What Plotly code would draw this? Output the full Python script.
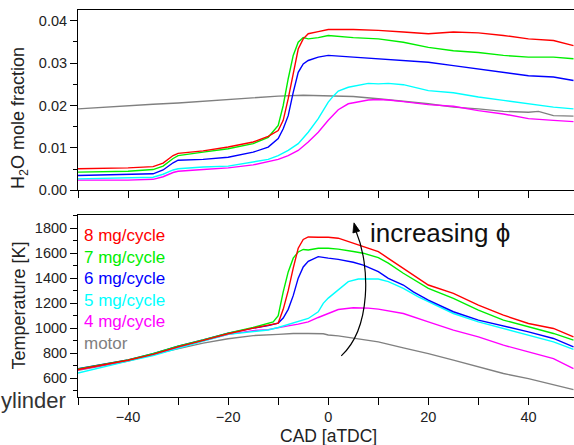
import plotly.graph_objects as go

# ---------------- data: H2O mole fraction (top panel) ----------------
cad_h2o_a = [-50, -40, -35, -33, -31, -30, -25, -20, -15, -12, -10, -9, -8, -7, -6, -5, -4, -2, 0,
             5, 10, 15, 20, 25, 30, 35, 40, 45, 49]
h2o_8 = [0.0051, 0.0053, 0.0056, 0.0064, 0.0082, 0.0087, 0.0093, 0.0102, 0.0114, 0.0127, 0.0141,
         0.0165, 0.0216, 0.0278, 0.0333, 0.0357, 0.0369, 0.0374, 0.0379,
         0.0379, 0.0377, 0.0373, 0.0369, 0.0373, 0.0371, 0.0365, 0.0357, 0.0353, 0.0341]
h2o_7 = [0.0043, 0.0045, 0.0049, 0.0057, 0.0075, 0.0082, 0.0090, 0.0098, 0.0110, 0.0125, 0.0153,
         0.0200, 0.0263, 0.0318, 0.0349, 0.0360, 0.0357, 0.0360, 0.0365,
         0.0360, 0.0357, 0.0349, 0.0337, 0.0329, 0.0325, 0.0318, 0.0314, 0.0314, 0.0310]
h2o_6 = [0.0035, 0.0037, 0.0039, 0.0048, 0.0065, 0.0071, 0.0073, 0.0078, 0.0090, 0.0102, 0.0122,
         0.0145, 0.0176, 0.0231, 0.0278, 0.0298, 0.0306, 0.0314, 0.0318,
         0.0314, 0.0310, 0.0306, 0.0302, 0.0294, 0.0286, 0.0278, 0.0270, 0.0267, 0.0259]

cad_h2o_b = [-50, -40, -35, -33, -31, -30, -25, -20, -15, -12, -10, -8, -6, -4, -2, 0, 1, 2, 4, 6, 8,
             10, 12, 15, 20, 25, 30, 35, 40, 45, 49]
h2o_5 = [0.0027, 0.0029, 0.0031, 0.0038, 0.0048, 0.0051, 0.0055, 0.0057, 0.0067, 0.0073, 0.0082,
         0.0094, 0.0110, 0.0137, 0.0169, 0.0208, 0.0222, 0.0234, 0.0243, 0.0248, 0.0252,
         0.0251, 0.0252, 0.0249, 0.0235, 0.0230, 0.0220, 0.0212, 0.0204, 0.0196, 0.0192]
h2o_4 = [0.0024, 0.0024, 0.0026, 0.0032, 0.0042, 0.0045, 0.0049, 0.0053, 0.0060, 0.0067, 0.0073,
         0.0082, 0.0094, 0.0114, 0.0137, 0.0165, 0.0178, 0.0190, 0.0204, 0.0209, 0.0213,
         0.0214, 0.0213, 0.0209, 0.0202, 0.0198, 0.0188, 0.0180, 0.0169, 0.0165, 0.0162]

cad_h2o_m = [-50, -45, -40, -35, -30, -25, -20, -15, -10, -5, 0, 5, 10, 15, 20, 25, 30, 35, 40, 42, 45, 49]
h2o_motor = [0.0192, 0.0196, 0.0200, 0.0203, 0.0206, 0.0210, 0.0214, 0.0218, 0.0222, 0.0224, 0.0222,
             0.0221, 0.0216, 0.0210, 0.0204, 0.0196, 0.0192, 0.0186, 0.0184, 0.0186, 0.0176, 0.0175]

# ---------------- data: temperature (bottom panel) ----------------
cad_t_8 = [-50, -45, -40, -35, -30, -25, -20, -15, -12, -10, -9, -8, -7, -6, -5, -4, -2, 0, 2, 5, 7,
           10, 12, 15, 17, 20, 25, 30, 35, 40, 45, 49]
t_8 = [668, 705, 742, 790, 850, 902, 955, 1000, 1025, 1040, 1150, 1300, 1480, 1640, 1710, 1730, 1728,
       1728, 1720, 1680, 1653, 1613, 1559, 1479, 1420, 1345, 1278, 1184, 1104, 1037, 997, 930]
cad_t_7 = [-50, -45, -40, -35, -30, -25, -20, -15, -12, -11, -10, -9, -8, -7, -6, -5, -4, -2, 0, 2, 5,
           7, 10, 12, 15, 17, 20, 25, 30, 35, 40, 45, 49]
t_7 = [672, 708, 745, 795, 855, 905, 960, 1005, 1035, 1050, 1100, 1290, 1450, 1560, 1610, 1630, 1626,
       1640, 1640, 1633, 1613, 1600, 1564, 1520, 1439, 1390, 1318, 1238, 1144, 1064, 1010, 957, 903]
cad_t_6 = [-50, -45, -40, -35, -30, -25, -20, -15, -12, -10, -9, -8, -7, -6, -5, -4, -2, 0, 2, 5, 7,
           10, 12, 15, 17, 20, 25, 30, 35, 40, 45, 49]
t_6 = [675, 708, 745, 795, 855, 905, 960, 1000, 1020, 1040, 1080, 1150, 1260, 1400, 1490, 1535, 1572,
       1560, 1550, 1527, 1505, 1452, 1398, 1345, 1290, 1224, 1131, 1064, 1018, 970, 917, 850]
cad_t_5 = [-50, -45, -40, -35, -30, -25, -20, -15, -12, -10, -8, -6, -4, -2, -1, 0, 2, 4, 6, 8, 10,
           12, 15, 18, 20, 25, 30, 35, 40, 45, 49]
t_5 = [640, 690, 735, 780, 840, 895, 950, 975, 985, 1005, 1030, 1050, 1077, 1130, 1198, 1240, 1304,
       1372, 1393, 1395, 1393, 1372, 1318, 1250, 1211, 1117, 1050, 997, 943, 890, 830]
cad_t_4 = [-50, -45, -40, -35, -30, -25, -20, -15, -12, -10, -8, -6, -4, -2, 0, 2, 5, 8, 10, 15, 20,
           25, 30, 35, 40, 45, 49]
t_4 = [665, 700, 740, 788, 845, 898, 950, 980, 988, 1000, 1018, 1032, 1050, 1085, 1117, 1149, 1163,
       1160, 1152, 1117, 1050, 984, 930, 863, 810, 756, 676]
cad_t_m = [-50, -45, -40, -35, -30, -25, -20, -15, -10, -7, -4, -1, 0, 2, 5, 8, 10, 15, 20, 25, 30,
           35, 40, 45, 49]
t_motor = [662, 700, 735, 790, 836, 880, 915, 940, 950, 957, 957, 955, 945, 938, 920, 905, 890, 842,
           796, 743, 689, 636, 595, 547, 507]

series_names = ["8 mg/cycle", "7 mg/cycle", "6 mg/cycle", "5 mg/cycle", "4 mg/cycle", "motor"]
series_colors = ["#ff0000", "#00ee00", "#0000ff", "#00ffff", "#ff00ff", "#808080"]

x_ticks_all = [-50, -40, -30, -20, -10, 0, 10, 20, 30, 40]
t_ticks = [600, 800, 1000, 1200, 1400, 1600, 1800]

FONT = "Liberation Sans, Arial, sans-serif"
XR = [-50, 49.1]
TR = [448, 1905]
HR = [0, 0.0425]

top_sets = [(cad_h2o_a, h2o_8), (cad_h2o_a, h2o_7), (cad_h2o_a, h2o_6),
            (cad_h2o_b, h2o_5), (cad_h2o_b, h2o_4), (cad_h2o_m, h2o_motor)]
bot_sets = [(cad_t_8, t_8), (cad_t_7, t_7), (cad_t_6, t_6),
            (cad_t_5, t_5), (cad_t_4, t_4), (cad_t_m, t_motor)]

fig = go.Figure()
order = [5, 4, 3, 2, 1, 0]
for i in order:
    cx, cy = top_sets[i]
    fig.add_trace(go.Scatter(x=cx, y=cy, mode="lines", name=series_names[i],
                             line=dict(color=series_colors[i], width=1.4),
                             xaxis="x", yaxis="y", showlegend=False))
for i in order:
    cx, cy = bot_sets[i]
    fig.add_trace(go.Scatter(x=cx, y=cy, mode="lines", name=series_names[i],
                             line=dict(color=series_colors[i], width=1.4),
                             xaxis="x2", yaxis="y2", showlegend=False))

axis_common = dict(showgrid=False, zeroline=False, linecolor="black", linewidth=1,
                   tickcolor="black", tickfont=dict(family=FONT, size=14.5, color="#222"))

annotations = []
leg_y = [0.4186, 0.3610, 0.3067, 0.2506, 0.1946, 0.1388]
for name, col, yy in zip(series_names, series_colors, leg_y):
    annotations.append(dict(text=name, x=0.008, y=yy, xref="paper", yref="paper",
                            xanchor="left", yanchor="middle", showarrow=False,
                            font=dict(family=FONT, size=17, color=col)))
annotations += [
    dict(text="H<sub>2</sub>O mole fraction", textangle=-90, x=-0.118, y=0.722,
         xref="paper", yref="paper", xanchor="center", yanchor="middle", showarrow=False,
         font=dict(family=FONT, size=18, color="#222")),
    dict(text="Temperature [K]", textangle=-90, x=-0.118, y=0.2377,
         xref="paper", yref="paper", xanchor="center", yanchor="middle", showarrow=False,
         font=dict(family=FONT, size=18, color="#222")),
    dict(text="CAD [aTDC]", x=0.505, y=-0.102, xref="paper", yref="paper",
         xanchor="center", yanchor="middle", showarrow=False,
         font=dict(family=FONT, size=17.5, color="#222")),
    dict(text="increasing \u03d5", x=0.584, y=0.424, xref="paper", yref="paper",
         xanchor="left", yanchor="middle", showarrow=False,
         font=dict(family=FONT, size=26, color="#111")),
    dict(text="ylinder", x=-0.159, y=-0.010, xref="paper", yref="paper",
         xanchor="left", yanchor="middle", showarrow=False,
         font=dict(family=FONT, size=22, color="#333")),
]

shapes = [
    dict(type="path", xref="x2", yref="y2",
         path="M 2.6,777 C 8.6,1000 8.4,1500 5.6,1769",
         line=dict(color="black", width=1.2)),
    dict(type="path", xref="x2", yref="y2",
         path="M 5.14,1843 L 6.28,1777 L 4.92,1762 Z",
         fillcolor="black", line=dict(color="black", width=0.8)),
]

fig.update_layout(
    width=574, height=445,
    margin=dict(l=78, r=0, t=10, b=48),
    paper_bgcolor="white", plot_bgcolor="white",
    showlegend=False,
    font=dict(family=FONT, size=14, color="#222"),
    xaxis=dict(domain=[0, 1], anchor="y", range=XR, tickvals=x_ticks_all,
               ticks="outside", ticklen=7, showticklabels=False, showline=True,
               mirror=True, **axis_common),
    yaxis=dict(domain=[0.534, 1], anchor="x", range=HR, dtick=0.01, tick0=0,
               tickformat=".2f", ticks="outside", ticklen=7, showline=True, mirror=True,
               minor=dict(dtick=0.005, ticks="outside", ticklen=4, tickcolor="black"),
               **axis_common),
    xaxis3=dict(overlaying="x", anchor="y", side="top", range=XR, tickvals=x_ticks_all,
                ticks="inside", ticklen=6, showticklabels=False, showline=False,
                **axis_common),
    yaxis3=dict(overlaying="y", anchor="x", side="right", range=HR, dtick=0.01,
                ticks="inside", ticklen=5, showticklabels=False, showline=False,
                **axis_common),
    xaxis2=dict(domain=[0, 1], anchor="y2", range=XR, dtick=20, tick0=0,
                ticks="outside", ticklen=7, showline=True, mirror=True,
                minor=dict(dtick=10, tick0=0, ticks="outside", ticklen=7, tickcolor="black"),
                **axis_common),
    yaxis2=dict(domain=[0, 0.470], anchor="x2", range=TR, tickvals=t_ticks,
                ticks="outside", ticklen=7, showline=True, mirror=True,
                minor=dict(dtick=100, tick0=0, ticks="outside", ticklen=4, tickcolor="black"),
                **axis_common),
    xaxis4=dict(overlaying="x2", anchor="y2", side="top", range=XR, tickvals=x_ticks_all,
                ticks="outside", ticklen=6, showticklabels=False, showline=False,
                **axis_common),
    xaxis5=dict(overlaying="x2", anchor="y2", side="top", range=XR, tickvals=x_ticks_all,
                ticks="inside", ticklen=6, showticklabels=False, showline=False,
                **axis_common),
    yaxis4=dict(overlaying="y2", anchor="x2", side="right", range=TR,
                tickvals=t_ticks, ticks="inside", ticklen=5, showticklabels=False,
                showline=False, **axis_common),
    annotations=annotations,
    shapes=shapes,
)

fig.write_html("out.html", config={"displayModeBar": False},
               post_script="document.body.style.margin='0';")
